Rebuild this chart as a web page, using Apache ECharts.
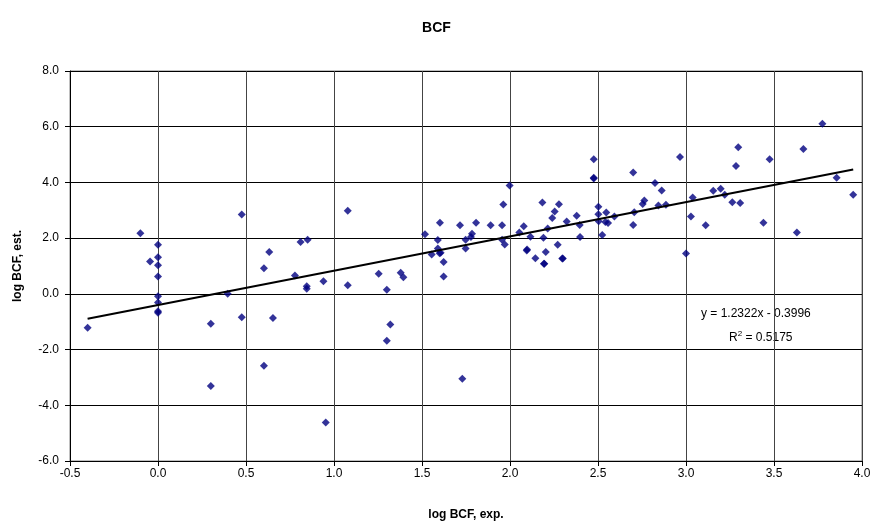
<!DOCTYPE html>
<html>
<head>
<meta charset="utf-8">
<script src="https://cdn.jsdelivr.net/npm/echarts@6/dist/echarts.min.js"></script>
<style>
  html, body { margin: 0; padding: 0; background: #fff; }
  #chart { width: 873px; height: 522px; }
</style>
</head>
<body>
<div id="chart"></div>
<script>
// measured values: log BCF exp. (x) and log BCF est. (y)
const expValues = [
  -0.40, -0.10, -0.045, 0, 0, 0, 0, 0, 0, 0, 0,
  0.30, 0.30, 0.396, 0.476, 0.476, 0.602, 0.602, 0.632, 0.653,
  0.778, 0.81, 0.845, 0.845, 0.85, 0.94, 0.953,
  1.078, 1.078, 1.254, 1.30, 1.30, 1.32, 1.379, 1.394,
  1.517, 1.555, 1.59, 1.59, 1.60, 1.602, 1.606, 1.623, 1.623,
  1.716, 1.729, 1.748, 1.748, 1.778, 1.784, 1.807, 1.89,
  1.955, 1.955, 1.962, 1.97, 1.998,
  2.053, 2.078, 2.095, 2.097, 2.116, 2.144, 2.184, 2.19, 2.193, 2.195,
  2.203, 2.214, 2.24, 2.254, 2.271, 2.278, 2.297, 2.30, 2.322, 2.379,
  2.396, 2.398, 2.476, 2.476, 2.476, 2.502, 2.502, 2.504, 2.524,
  2.542, 2.547, 2.557, 2.593, 2.70, 2.70, 2.706, 2.754, 2.763,
  2.824, 2.843, 2.862, 2.886, 2.966, 3.0, 3.028, 3.038,
  3.112, 3.155, 3.197, 3.22, 3.263, 3.284, 3.297, 3.308,
  3.44, 3.475, 3.63, 3.667, 3.775, 3.856, 3.95
];
const estValues = [
  -1.22, 2.18, 1.16, 1.76, 1.31, 1.03, 0.62, -0.09, -0.31, -0.62, -0.68,
  -1.07, -3.31, 0.0, 2.85, -0.84, 0.92, -2.58, 1.50, -0.87,
  0.66, 1.86, 0.27, 0.18, 1.94, 0.45, -4.62,
  2.98, 0.31, 0.72, 0.15, -1.68, -1.10, 0.76, 0.60,
  2.14, 1.41, 1.93, 1.63, 1.46, 2.55, 1.48, 1.14, 0.62,
  2.46, -3.05, 1.94, 1.63, 2.04, 2.16, 2.55, 2.46,
  2.46, 1.94, 3.21, 1.77, 3.89,
  2.20, 2.43, 1.56, 1.59, 2.05, 1.28, 3.28, 2.01, 1.08, 1.08,
  1.50, 2.35, 2.72, 2.96, 1.76, 3.22, 1.27, 1.27, 2.60, 2.80,
  2.47, 2.04, 4.83, 4.14, 4.17, 3.13, 2.86, 2.61, 2.11,
  2.58, 2.92, 2.54, 2.78, 4.36, 2.47, 2.93, 3.23, 3.35,
  3.98, 3.17, 3.71, 3.20, 4.91, 1.45, 2.78, 3.46,
  2.46, 3.70, 3.77, 3.56, 3.29, 4.59, 5.26, 3.26,
  2.55, 4.83, 2.20, 5.20, 6.11, 4.17, 3.56
];

// linear trendline as printed on the chart
const trendSlope = 1.2322;
const trendIntercept = -0.3996;
const trendText = ["y = 1.2322x - 0.3996", "R{sup|2} = 0.5175"];

const points = expValues.map((x, i) => [x, estValues[i]]);
const xMin = Math.min(...expValues);
const xMax = Math.max(...expValues);
const trendLine = [xMin, xMax].map(x => [x, trendSlope * x + trendIntercept]);

const chart = echarts.init(document.getElementById("chart"));
const font = "Liberation Sans, Arial, sans-serif";
const option = {
  animation: false,
  backgroundColor: "#fff",
  textStyle: { fontFamily: font },
  title: {
    text: "BCF",
    left: "center",
    top: 16,
    textStyle: { fontSize: 14, fontWeight: "bold", color: "#000", fontFamily: font }
  },
  grid: {
    left: 70, right: 11, top: 71, bottom: 61,
    outerBoundsMode: "none",
    show: true, borderColor: "#808080", borderWidth: 1
  },
  xAxis: {
    type: "value",
    min: -0.5, max: 4.0, interval: 0.5,
    name: "log BCF, exp.",
    nameLocation: "middle",
    nameGap: 48,
    nameTextStyle: { fontSize: 12, fontWeight: "bold", color: "#000" },
    axisLine: { onZero: false, lineStyle: { color: "#000" } },
    axisTick: { show: true, length: 5, lineStyle: { color: "#000" } },
    axisLabel: { fontSize: 12, color: "#000", margin: 7, formatter: v => v.toFixed(1) },
    splitLine: { show: true, lineStyle: { color: "#444", width: 1 } }
  },
  yAxis: {
    type: "value",
    min: -6, max: 8, interval: 2,
    name: "log BCF, est.",
    nameLocation: "middle",
    nameGap: 46,
    nameRotate: 90,
    nameTextStyle: { fontSize: 12, fontWeight: "bold", color: "#000" },
    axisLine: { show: true, onZero: false, lineStyle: { color: "#000" } },
    axisTick: { show: true, length: 5, lineStyle: { color: "#000" } },
    axisLabel: { fontSize: 12, color: "#000", margin: 11, formatter: v => v.toFixed(1) },
    splitLine: { show: true, lineStyle: { color: "#000", width: 1 } }
  },
  series: [
    {
      type: "scatter",
      data: points,
      symbol: "diamond",
      symbolSize: 8,
      itemStyle: { color: "#000080" },
      z: 3
    },
    {
      type: "line",
      data: trendLine,
      symbol: "none",
      lineStyle: { color: "#000", width: 2 },
      z: 4
    }
  ],
  graphic: [
    {
      type: "text",
      left: 701,
      top: 308,
      style: { text: trendText[0], fontSize: 12, fill: "#000", fontFamily: font }
    },
    {
      type: "text",
      left: 729,
      top: 330,
      style: {
        text: trendText[1], fontSize: 12, fill: "#000", fontFamily: font,
        rich: { sup: { fontSize: 8, verticalAlign: "top", padding: [0, 0, 8, 0] } }
      }
    }
  ]
};
chart.setOption(option);
</script>
</body>
</html>
